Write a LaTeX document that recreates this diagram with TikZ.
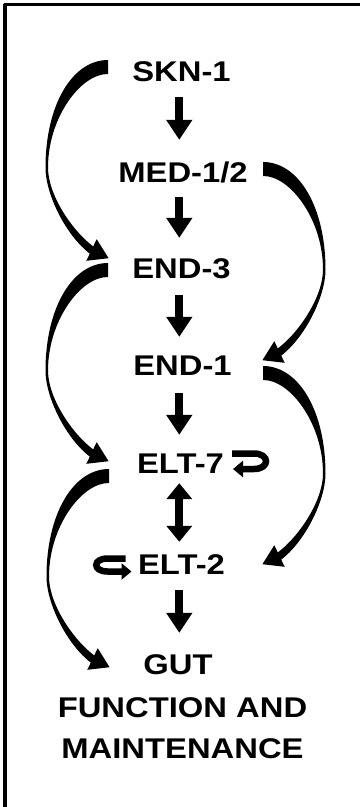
\documentclass[tikz,border=0pt]{standalone}
\usepackage{fontspec}
\newfontfamily\labfont{Liberation Sans}[FakeStretch=1.15]
\usetikzlibrary{arrows.meta}
\begin{document}
\begin{tikzpicture}[x=1pt,y=-1pt]
\tikzset{
  lab/.style={font=\labfont\bfseries\fontsize{28.5}{34}\selectfont,
    inner sep=0pt, text height=20pt, text depth=0pt, anchor=center},
  stem/.style={line width=8pt, -{Triangle[width=25pt,length=20pt]}},
  twoway/.style={line width=8pt,
    {Triangle[width=25pt,length=16pt]}-{Triangle[width=25pt,length=16pt]}},
  loopline/.style={line width=6.5pt, -{Triangle[width=16pt,length=10pt]}},
  % tapered curved arrow: thick tail, thin middle, head at the end
  swoosh/.pic={
    \fill (0,-7.5) .. controls (-36,-7.5) and (-62.5,38) .. (-62.5,100)
      .. controls (-62.5,127) and (-42,168) .. (-18.2,186.1)
      -- (-21.7,193.3) -- (0.6,190.7) -- (-11.3,171.7) -- (-14.8,178.9)
      .. controls (-35,164) and (-60,128) .. (-60,100)
      .. controls (-60,50) and (-27,6) .. (0,6.5) -- cycle;
  }
}
\useasboundingbox (0,0) rectangle (361,807);
\fill[white] (0,0) rectangle (361,807);

% frame
\draw[line width=2.6pt] (3.5,4.75) -- (360,4.75);
\draw[line width=3.2pt] (5,3.5) -- (5,807);

% genes
\node[lab] (skn)  at (181.5,71)  {SKN-1};
\node[lab] (med)  at (183,172.5) {MED-1/2};
\node[lab] (end3) at (181.5,268) {END-3};
\node[lab] (end1) at (182.5,365) {END-1};
\node[lab] (elt7) at (180.5,463.5) {ELT-7};
\node[lab] (elt2) at (181.5,564) {ELT-2};
\node[lab] (gut)  at (178,664)   {GUT};
\node[lab] (fn1)  at (182.5,707.5) {FUNCTION AND};
\node[lab] (fn2)  at (182.5,748.5) {MAINTENANCE};

% column of straight arrows
\coordinate (col) at (179.3,0);
\draw[stem, shorten <=16pt, shorten >=22.5pt] (skn.south -| col) -- (med.north -| col);
\draw[stem, shorten <=14.5pt, shorten >=20pt] (med.south -| col) -- (end3.north -| col);
\draw[stem, shorten <=17pt, shorten >=18pt] (end3.south -| col) -- (end1.north -| col);
\draw[stem, shorten <=18pt, shorten >=18.5pt] (end1.south -| col) -- (elt7.north -| col);
\draw[twoway, shorten <=9.5pt, shorten >=12pt] (elt7.south -| col) -- (elt2.north -| col);
\draw[stem, shorten <=16pt, shorten >=21pt] (elt2.south -| col) -- (gut.north -| col);

% curved arrows on the left
\pic at ([shift={(-73.5,-3.5)}]skn.center) {swoosh};
\pic at ([shift={(-73.5,2.5)}]end3.center) {swoosh};
\pic at ([shift={(-71.5,13)}]elt7.center) {swoosh};
% curved arrows on the right
\pic[xscale=-1] at ([shift={(80,-3)}]med.center) {swoosh};
\pic[xscale=-1] at ([shift={(80.5,8.5)}]end1.center) {swoosh};

% self-activation loops
\draw[loopline] ([shift={(51.5,-10)}]elt7.center) -- ++(22,0)
  .. controls +(16,0) and +(16,0) .. ++(0,15.5) -- ++(-21,0);
\draw[loopline] ([shift={(-56,-5.5)}]elt2.center) -- ++(-18,0)
  .. controls +(-15,0) and +(-15,0) .. ++(0,13) -- ++(24,0);
\end{tikzpicture}
\end{document}
